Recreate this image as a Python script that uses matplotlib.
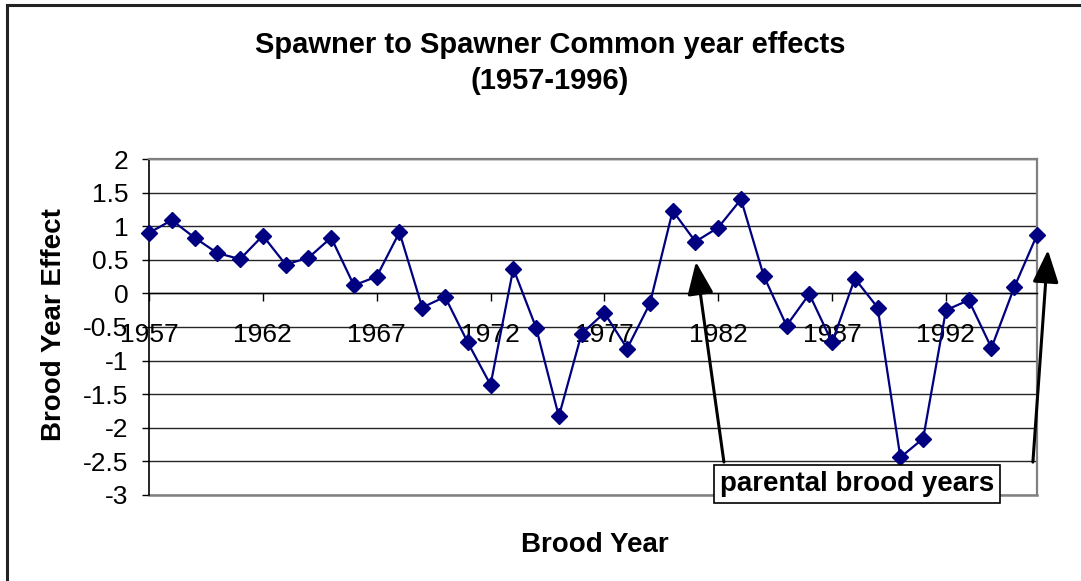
import numpy as np
import matplotlib.pyplot as plt
from matplotlib.lines import Line2D

plt.rcParams['font.family'] = ['Liberation Sans', 'DejaVu Sans']

years = list(range(1957, 1997))
effects = [0.90, 1.09, 0.83, 0.60, 0.51, 0.86, 0.43, 0.53, 0.83, 0.12,
           0.25, 0.91, -0.21, -0.05, -0.73, -1.36, 0.37, -0.51, -1.83, -0.60,
           -0.29, -0.82, -0.15, 1.23, 0.77, 0.98, 1.40, 0.26, -0.48, -0.01,
           -0.73, 0.22, -0.21, -2.44, -2.16, -0.25, -0.10, -0.81, 0.09, 0.87]
year_ticks = [1957, 1962, 1967, 1972, 1977, 1982, 1987, 1992]
y_ticks = [2, 1.5, 1, 0.5, 0, -0.5, -1, -1.5, -2, -2.5, -3]
y_labels = ['2', '1.5', '1', '0.5', '0', '-0.5', '-1', '-1.5', '-2', '-2.5', '-3']

W, H = 1081, 581
fig = plt.figure(figsize=(W / 100, H / 100), dpi=100)
ax = fig.add_axes([149 / W, 1 - 495 / H, (1037 - 149) / W, (495 - 159) / H])

# gridlines every 0.5
for v in y_ticks:
    ax.axhline(v, color='#262626', lw=1.0, zorder=1)

ax.plot(years, effects, color='#000080', lw=1.6, marker='D', markersize=8,
        clip_on=False, zorder=3)

ax.set_xlim(1957, 1996)
ax.set_ylim(-3, 2)

# x axis crosses at 0
ax.spines['bottom'].set_position(('data', 0))
ax.spines['bottom'].set_color('black')
ax.spines['bottom'].set_linewidth(1.0)
ax.spines['left'].set_color('black')
ax.spines['left'].set_linewidth(1.2)
for s in ['top', 'right']:
    ax.spines[s].set_color('#808080')
    ax.spines[s].set_linewidth(1.6)
ax.axhline(-3, color='#808080', lw=1.8, zorder=2, clip_on=False)

ax.set_xticks(year_ticks)
ax.set_xticklabels([str(y) for y in year_ticks])
ax.set_yticks(y_ticks)
ax.set_yticklabels(y_labels)
ax.tick_params(axis='x', direction='out', length=6, width=1, pad=15, labelsize=19)
ax.tick_params(axis='y', direction='out', length=5, width=1, pad=10, labelsize=19)

fig.text(54 / W, 1 - 325 / H, 'Brood Year Effect', rotation=90, fontsize=20,
         fontweight='bold', ha='center', va='center')
fig.text(595 / W, 1 - 545 / H, 'Brood Year', fontsize=20, fontweight='bold',
         ha='center', va='center')
fig.text(550 / W, 1 - 63 / H, 'Spawner to Spawner Common year effects\n(1957-1996)',
         fontsize=21, fontweight='bold', ha='center', va='center', linespacing=1.4)

# annotation box + arrows
fig.text(857 / W, 1 - 484 / H, 'parental brood years', fontsize=20, fontweight='bold',
         ha='center', va='center', zorder=5,
         bbox=dict(boxstyle='square,pad=0.22', facecolor='white', edgecolor='black', lw=1.2))
arrow = dict(arrowstyle='-|>,head_length=1.0,head_width=0.4', color='black', lw=2.2,
             shrinkA=0, shrinkB=0, mutation_scale=20)
ax.annotate('', xy=(1981.02, 0.47), xytext=(1982.25, -2.51), arrowprops=arrow,
            annotation_clip=False, zorder=6)
ax.annotate('', xy=(1996.48, 0.645), xytext=(1995.82, -2.51), arrowprops=arrow,
            annotation_clip=False, zorder=6)

# outer chart frame
fig.add_artist(Line2D([7.5 / W, 7.5 / W], [0, 1 - 4.5 / H], color='#222222', lw=2.2,
                      transform=fig.transFigure))
fig.add_artist(Line2D([7.5 / W, 1], [1 - 4.5 / H, 1 - 4.5 / H], color='#222222', lw=2.2,
                      transform=fig.transFigure))

fig.savefig('out.png', dpi=100)
